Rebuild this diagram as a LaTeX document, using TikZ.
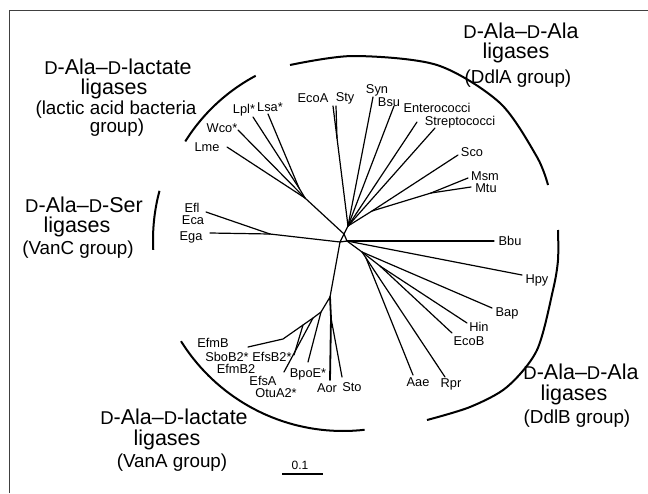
\documentclass[tikz,border=0pt]{standalone}
\usepackage{fontspec}
\setmainfont{Liberation Sans}
\usepackage{graphicx}
\newcommand\smD{\scalebox{0.86}{D}}
\tikzset{
  br/.style={line width=1.2pt, line cap=round, line join=round},
  grp/.style={line width=2pt, line cap=butt},
  frm/.style={line width=1pt, black!75},
  lab/.style={font=\fontsize{12.8}{14}\selectfont, inner sep=0pt},
  ttl/.style={font=\fontsize{21.5}{24}\selectfont, inner sep=0pt, anchor=base},
  sub/.style={font=\fontsize{18.8}{21}\selectfont, inner sep=0pt, anchor=base},
}
\begin{document}
\begin{tikzpicture}[x=1pt,y=-1pt]
\useasboundingbox (0,0) rectangle (648,493);
\fill[white] (0,0) rectangle (648,493);
\draw[frm] (9,493) -- (9,10) -- (648,10);

% junctions
\coordinate (c1) at (344,234);
\coordinate (c2) at (340,242);
\coordinate (c3) at (347,241);
\coordinate (u0) at (348,226);
\coordinate (ue) at (337,138);
\coordinate (us) at (372,211);
\coordinate (um) at (431,193);
\coordinate (L) at (305,198);
\coordinate (L1) at (299,188);
\coordinate (v0) at (270,234);
\coordinate (r1) at (362,252);
\coordinate (r2) at (380,266);
\coordinate (r3) at (366,258);
\coordinate (va) at (330,297);
\coordinate (vb) at (321,312);
\coordinate (vc) at (313,318);
\coordinate (vd) at (303,325);
\coordinate (ve) at (283,339);
\coordinate (vs) at (331,318);

% leaf ends
\coordinate (eLme) at (227,147);
\coordinate (eWco) at (238,130);
\coordinate (eLpl) at (253,117);
\coordinate (eLsa) at (268,114);
\coordinate (eEcoA) at (333,106);
\coordinate (eSty) at (336,106);
\coordinate (eSyn) at (373,97);
\coordinate (eBsu) at (394,106);
\coordinate (eEnt) at (417,122);
\coordinate (eStr) at (435,128);
\coordinate (eSco) at (458,155);
\coordinate (eMsm) at (468,178);
\coordinate (eMtu) at (471,187);
\coordinate (eBbu) at (494,241);
\coordinate (eHpy) at (522,275);
\coordinate (eBap) at (492,308);
\coordinate (eHin) at (467,323);
\coordinate (eEcoB) at (452,333);
\coordinate (eRpr) at (445,377);
\coordinate (eAae) at (413,375);
\coordinate (eSto) at (342,377);
\coordinate (eAor) at (330,380);
\coordinate (eBpoE) at (308,362);
\coordinate (eEfsA) at (284,372);
\coordinate (eEfsB) at (294,355);
\coordinate (eEfmB) at (248,347);
\coordinate (eEfl) at (206,212);
\coordinate (eEga) at (210,233);

% tree
\draw[br] (c1) -- (c2) -- (c3) -- cycle;
\draw[br] (c1) -- (u0);
\draw[br] (c1) -- (L);
\draw[br] (c2) -- (v0);
\draw[br] (c2) -- (va);
\draw[br] (c3) -- (eBbu);
\draw[br] (c3) -- (eHpy);
\draw[br] (c3) -- (r1);
\draw[br] (u0) -- (ue);
\draw[br] (ue) -- (eEcoA);
\draw[br] (ue) -- (eSty);
\draw[br] (u0) -- (eSyn);
\draw[br] (u0) -- (eBsu);
\draw[br] (u0) -- (eEnt);
\draw[br] (u0) -- (eStr);
\draw[br] (u0) -- (us);
\draw[br] (us) -- (eSco);
\draw[br] (us) -- (um);
\draw[br] (um) -- (eMsm);
\draw[br] (um) -- (eMtu);
\draw[br] (L) -- (eLme);
\draw[br] (L) -- (eWco);
\draw[br] (L) -- (L1);
\draw[br] (L1) -- (eLpl);
\draw[br] (L1) -- (eLsa);
\draw[br] (v0) -- (eEfl);
\draw[br] (v0) -- (eEga);
\draw[br] (r1) -- (eBap);
\draw[br] (r1) -- (r2);
\draw[br] (r2) -- (eHin);
\draw[br] (r2) -- (eEcoB);
\draw[br] (r1) -- (r3);
\draw[br] (r3) -- (eAae);
\draw[br] (r3) -- (eRpr);
\draw[br, line width=1.8pt] (va) -- (vs) -- (eAor);
\draw[br] (vs) -- (eSto);
\draw[br] (va) -- (vb) -- (vc) -- (vd) -- (ve) -- (eEfmB);
\draw[br] (vb) -- (eBpoE);
\draw[br] (vc) -- (eEfsA);
\draw[br] (vd) -- (eEfsB);

% group arcs
\draw[grp] plot[domain=212:242, samples=30] ({343+186*cos(\x)},{240+186*sin(\x)});
\draw[grp] plot[smooth] coordinates {(290,65) (353,56) (437,65) (500,103) (537,157) (548,185)};
\draw[grp] plot[domain=177:195, samples=20] ({343+190*cos(\x)},{240+190*sin(\x)});
\draw[grp] plot[domain=83.5:148, samples=40] ({343+191*cos(\x)},{240+191*sin(\x)});
\draw[grp] plot[smooth] coordinates {(558,230) (558,260) (553,290) (537,350) (507,387) (470,407) (427,420)};

% leaf labels
\node[lab] (Lme) at (207,147) {Lme};
\node[lab] (Wco) at (222,128) {Wco*};
\node[lab] (Lpl) at (244,110) {Lpl*};
\node[lab] (Lsa) at (270,107) {Lsa*};
\node[lab] (EcoA) at (313,98) {EcoA};
\node[lab] (Sty) at (345,98) {Sty};
\node[lab] (Syn) at (377,90) {Syn};
\node[lab] (Bsu) at (389,102) {Bsu};
\node[lab] (Ent) at (437,108) {Enterococci};
\node[lab] (Str) at (460,122) {Streptococci};
\node[lab] (Sco) at (472,152) {Sco};
\node[lab] (Msm) at (485,176.5) {Msm};
\node[lab] (Mtu) at (486,188.5) {Mtu};
\node[lab] (Bbu) at (510,241) {Bbu};
\node[lab] (Hpy) at (537,280) {Hpy};
\node[lab] (Bap) at (507,313) {Bap};
\node[lab] (Hin) at (479,327) {Hin};
\node[lab] (EcoB) at (469,341) {EcoB};
\node[lab] (Rpr) at (451,384) {Rpr};
\node[lab] (Aae) at (418,382) {Aae};
\node[lab] (Sto) at (352,387) {Sto};
\node[lab] (Aor) at (327,388) {Aor};
\node[lab] (BpoE) at (308,374) {BpoE*};
\node[lab] (OtuA) at (276,393.5) {OtuA2*};
\node[lab] (EfsA) at (263,380.5) {EfsA};
\node[lab] (EfmBb) at (236,369) {EfmB2};
\node[lab] (SboB) at (227,356.5) {SboB2*};
\node[lab] (EfsB) at (272,356.5) {EfsB2*};
\node[lab] (EfmB) at (213,343) {EfmB};
\node[lab] (Efl) at (192,208) {Efl};
\node[lab] (Eca) at (193,220.5) {Eca};
\node[lab] (Ega) at (191,237) {Ega};

% group titles
\node[ttl] (t1a) at (118,74) {\smD-Ala--\smD-lactate};
\node[ttl] (t1b) at (114,94.5) {ligases};
\node[sub] (t1c) at (116,114) {(lactic acid bacteria};
\node[sub] (t1d) at (117,132.5) {group)};

\node[ttl] (t2a) at (521,38) {\smD-Ala--\smD-Ala};
\node[ttl] (t2b) at (516,58.5) {ligases};
\node[sub] (t2c) at (518,83) {(DdlA group)};

\node[ttl] (t3a) at (84,212) {\smD-Ala--\smD-Ser};
\node[ttl] (t3b) at (77,232.5) {ligases};
\node[sub] (t3c) at (78,254.5) {(VanC group)};

\node[ttl] (t4a) at (174,424) {\smD-Ala--\smD-lactate};
\node[ttl] (t4b) at (167,445) {ligases};
\node[sub] (t4c) at (172,467) {(VanA group)};

\node[ttl] (t5a) at (581,379.5) {\smD-Ala--\smD-Ala};
\node[ttl] (t5b) at (574,400.5) {ligases};
\node[sub] (t5c) at (577,423.5) {(DdlB group)};

% scale bar
\coordinate (sb1) at (282,474);
\coordinate (sb2) at (323,474);
\draw[br, line cap=butt] (sb1) -- (sb2);
\node[lab, font=\fontsize{12}{14}\selectfont] (sbl) at (300,465) {0.1};
\end{tikzpicture}
\end{document}
